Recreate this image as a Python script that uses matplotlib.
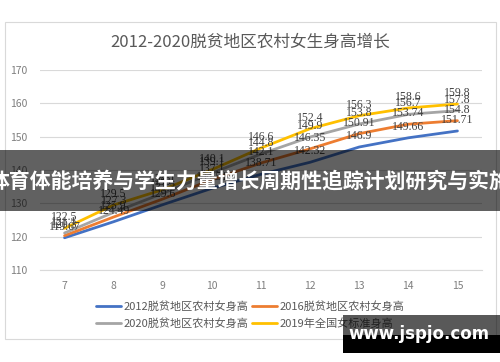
import matplotlib.pyplot as plt
from matplotlib.patches import Rectangle

plt.rcParams['font.family'] = ['Noto Sans CJK SC', 'DejaVu Sans']

# data
ages = [7, 8, 9, 10, 11, 12, 13, 14, 15]
h2012 = [119.67, 124.49, 129.6, 134.51, 138.71, 142.32, 146.9, 149.66, 151.71]
h2016 = [120.3, 125.9, 131.3, 137.1, 142.1, 146.35, 150.91, 153.74, 154.8]
h2020 = [121.1, 127.3, 133.0, 139.1, 144.8, 149.9, 153.8, 156.7, 157.8]
h2019 = [122.5, 129.5, 134.1, 140.1, 146.6, 152.4, 156.3, 158.6, 159.8]
names = ['2012脱贫地区农村女身高', '2016脱贫地区农村女身高',
         '2020脱贫地区农村女身高', '2019年全国女标准身高']
colors = ['#4472C4', '#ED7D31', '#A5A5A5', '#FFC000']
title = '2012-2020脱贫地区农村女生身高增长'
banner = '体育体能培养与学生力量增长周期性追踪计划研究与实施'
site = 'www.jspjo.com'

W, H = 500, 362
fig = plt.figure(figsize=(5, 3.62), dpi=100)
ax = fig.add_axes([40 / W, 1 - 270 / H, 442 / W, 200 / H])

# outer chart border
fig.add_artist(Rectangle((5 / W, 1 - 339 / H), 491 / W, 317 / H,
                         transform=fig.transFigure, fill=False,
                         edgecolor='#D9D9D9', linewidth=0.8))

lines = []
for vals, name, c in zip([h2012, h2016, h2020, h2019], names, colors):
    ln, = ax.plot(ages, vals, color=c, linewidth=2.0, label=name,
                  solid_capstyle='round')
    lines.append(ln)
    for x, v in zip(ages, vals):
        ax.annotate(f'{v:g}', (x, v), xytext=(0, 3.5), textcoords='offset points',
                    ha='center', va='bottom', fontsize=8.5,
                    family='Liberation Serif', color='#404040')

ax.set_xlim(6.5, 15.5)
ax.set_ylim(110, 170)
ax.set_xticks(ages)
ax.set_yticks(range(110, 171, 10))
ax.grid(axis='y', color='#D9D9D9', linewidth=0.8)
ax.set_axisbelow(True)
for s in ['top', 'right', 'left']:
    ax.spines[s].set_visible(False)
ax.spines['bottom'].set_color('#D9D9D9')
ax.tick_params(length=0, labelsize=7.5, labelcolor='#7F7F7F')
ax.tick_params(axis='y', pad=9)
ax.tick_params(axis='x', pad=8)

fig.text(0.5, 1 - 42 / H, title, ha='center', va='center',
         fontsize=12, color='#595959')

order = [0, 2, 1, 3]
fig.legend([lines[i] for i in order], [names[i] for i in order],
           loc='center', bbox_to_anchor=(250 / W, 1 - 315 / H), ncol=2,
           frameon=False, fontsize=8, labelcolor='#595959',
           handlelength=2.3, handletextpad=0.2, columnspacing=0.3,
           labelspacing=0.5)

# dark banner over the middle
fig.add_artist(Rectangle((0, 1 - 211 / H), 1, 61 / H, transform=fig.transFigure,
                         facecolor='black', alpha=0.62, edgecolor='none',
                         zorder=10))
fig.text(0.5, 1 - 181 / H, banner, ha='center', va='center', fontsize=15,
         fontweight='bold', color='white', zorder=11)

# watermark box
fig.add_artist(Rectangle((343 / W, 1 - 335 / H), 157 / W, 20 / H,
                         transform=fig.transFigure, facecolor='black',
                         alpha=0.65, edgecolor='none', zorder=10))
fig.add_artist(Rectangle((343 / W, 1 - 353 / H), 157 / W, 18 / H,
                         transform=fig.transFigure, facecolor='black',
                         edgecolor='none', zorder=10))
fig.text(348 / W, 1 - 334 / H, site, ha='left', va='center', fontsize=12,
         fontweight='bold', color='white', family='DejaVu Sans', zorder=11)

fig.savefig('out.png', dpi=100)
